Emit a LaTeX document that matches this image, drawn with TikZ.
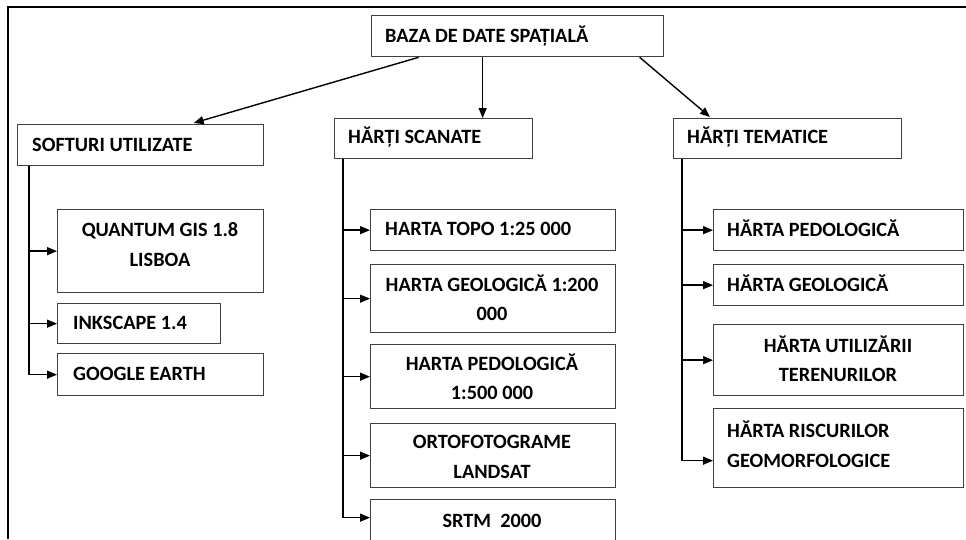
\documentclass[tikz,border=0pt]{standalone}
\usepackage{fontspec}
\setmainfont{Carlito}
\usetikzlibrary{arrows.meta}
\begin{document}
\begin{tikzpicture}[x=1pt,y=-1pt,
  box/.style={draw=black!75, line width=1.3pt, rectangle, inner sep=0pt, anchor=north west},
  txt/.style={inner sep=0pt, font=\fontsize{20.3}{29}\selectfont\bfseries},
  lt/.style={txt, anchor=base west},
  ct/.style={txt, anchor=base},
  arr/.style={draw=black, line width=1.4pt, -{Triangle[length=10pt,width=8pt]}},
  frameline/.style={draw=black, line width=1.5pt}]
\useasboundingbox (0,0) rectangle (966,539);
\clip (0,0) rectangle (966,539);
\draw[frameline] (8,539) -- (8,7) -- (966,7);
% boxes
\node[box, minimum width=292pt, minimum height=41pt] (baza) at (371,15) {};
\node[box, minimum width=246pt, minimum height=41pt] (soft) at (17,124) {};
\node[box, minimum width=198pt, minimum height=40pt] (scan) at (334,118) {};
\node[box, minimum width=228pt, minimum height=40pt] (tem) at (673,118) {};
\node[box, minimum width=206pt, minimum height=83pt] (quan) at (57,209) {};
\node[box, minimum width=163pt, minimum height=40pt] (ink) at (57,303) {};
\node[box, minimum width=206pt, minimum height=42pt] (goog) at (57,353) {};
\node[box, minimum width=245pt, minimum height=41pt] (topo) at (370,209) {};
\node[box, minimum width=245pt, minimum height=68pt] (geol) at (370,264) {};
\node[box, minimum width=245pt, minimum height=64pt] (pedo) at (370,344) {};
\node[box, minimum width=245pt, minimum height=64pt] (orto) at (370,423) {};
\node[box, minimum width=245pt, minimum height=42pt] (srtm) at (370,499) {};
\node[box, minimum width=250pt, minimum height=41pt] (tpedo) at (713,209) {};
\node[box, minimum width=250pt, minimum height=41pt] (tgeo) at (713,264) {};
\node[box, minimum width=250pt, minimum height=71pt] (tutil) at (713,324) {};
\node[box, minimum width=250pt, minimum height=79pt] (trisc) at (713,408) {};
% texts
\node[lt] (lbaza) at (385,42) {BAZA DE DATE SPAȚIALĂ};
\node[lt] (lsoft) at (32,151) {SOFTURI UTILIZATE};
\node[lt] (lscan) at (348,143) {HĂRȚI SCANATE};
\node[lt] (ltem) at (687,143) {HĂRȚI TEMATICE};
\node[ct] (lquana) at (160,236) {QUANTUM GIS 1.8};
\node[ct] (lquanb) at (160,266) {LISBOA};
\node[lt] (link) at (73,329) {INKSCAPE 1.4};
\node[lt] (lgoog) at (73,380) {GOOGLE EARTH};
\node[lt] (ltopo) at (385,235) {HARTA TOPO 1:25 000};
\node[ct] (lgeola) at (492,291) {HARTA GEOLOGICĂ 1:200};
\node[ct] (lgeolb) at (492,320) {000};
\node[ct] (lpedoa) at (492,370) {HARTA PEDOLOGICĂ};
\node[ct] (lpedob) at (492,399) {1:500 000};
\node[ct] (lortoa) at (492,448) {ORTOFOTOGRAME};
\node[ct] (lortob) at (492,478) {LANDSAT};
\node[ct] (lsrtm) at (492,527) {SRTM\ \ 2000};
\node[lt] (ltpedo) at (727,236) {HĂRTA PEDOLOGICĂ};
\node[lt] (ltgeo) at (727,291) {HĂRTA GEOLOGICĂ};
\node[ct] (ltutila) at (838,352) {HĂRTA UTILIZĂRII};
\node[ct] (ltutilb) at (838,381) {TERENURILOR};
\node[lt] (ltrisca) at (727,437) {HĂRTA RISCURILOR};
\node[lt] (ltriscb) at (727,467) {GEOMORFOLOGICE};
% top connectors
\draw[arr] ([xshift=-99pt]baza.south) -- ([xshift=53pt,yshift=1pt]soft.north);
\draw[arr] ([xshift=-35pt]baza.south) -- ([xshift=-35pt]baza.south |- scan.north);
\draw[arr] ([xshift=122pt]baza.south) -- ([xshift=37pt,yshift=1pt]tem.north west);
% branches
\draw[arr] ([xshift=12pt]soft.south west) |- (quan.west);
\draw[arr] ([xshift=12pt]soft.south west) |- (ink.west);
\draw[arr] ([xshift=12pt]soft.south west) |- (goog.west);
\draw[arr] ([xshift=9pt]scan.south west) |- (topo.west);
\draw[arr] ([xshift=9pt]scan.south west) |- (geol.west);
\draw[arr] ([xshift=9pt]scan.south west) |- (pedo.west);
\draw[arr] ([xshift=9pt]scan.south west) |- (orto.west);
\draw[arr] ([xshift=9pt]scan.south west) |- ([yshift=3pt]srtm.west);
\draw[arr] ([xshift=9pt]tem.south west) |- (tpedo.west);
\draw[arr] ([xshift=9pt]tem.south west) |- (tgeo.west);
\draw[arr] ([xshift=9pt]tem.south west) |- (tutil.west);
\draw[arr] ([xshift=9pt]tem.south west) |- ([yshift=-12.5pt]trisc.west);
\end{tikzpicture}
\end{document}
